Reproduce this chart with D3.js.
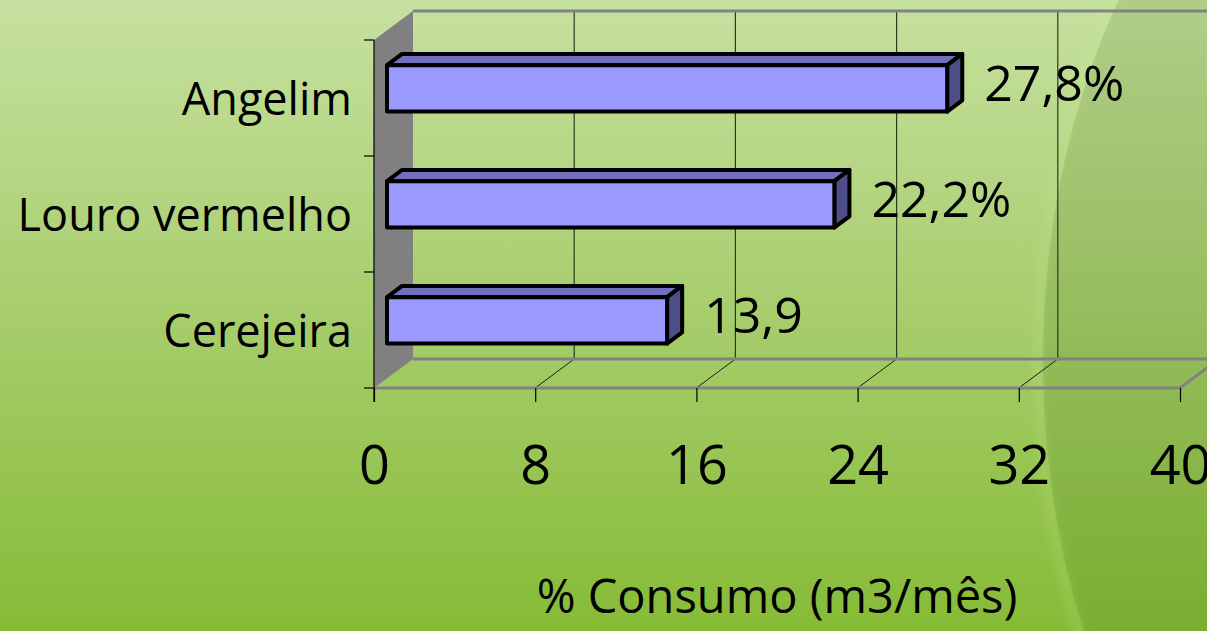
<!DOCTYPE html>
<html>
<head>
<meta charset="utf-8">
<script src="https://cdn.jsdelivr.net/npm/d3@7"></script>
<style>
  html, body { margin: 0; padding: 0; overflow: hidden; }
  svg { display: block; }
  text { font-family: "Open Sans", "DejaVu Sans", sans-serif; fill: #000; }
</style>
</head>
<body>
<svg id="chart" width="1207" height="631"></svg>
<script>
// Wood species and their share of monthly consumption
const categories = ["Angelim", "Louro vermelho", "Cerejeira"];
const values = [27.8, 22.2, 13.9];
const valueLabels = ["27,8%", "22,2%", "13,9"];
const tickValues = [0, 8, 16, 24, 32, 40];
const axisTitle = "% Consumo (m3/mês)";

const W = 1207, H = 631;
const svg = d3.select("#chart");

// ---- background ----
const defs = svg.append("defs");
const bg = defs.append("linearGradient").attr("id", "bg").attr("x1", 0).attr("y1", 0).attr("x2", 0).attr("y2", 1);
bg.append("stop").attr("offset", 0).attr("stop-color", "#c6e1a0");
bg.append("stop").attr("offset", 0.5).attr("stop-color", "#a7cd6c");
bg.append("stop").attr("offset", 1).attr("stop-color", "#86bb36");
defs.append("filter").attr("id", "soft").append("feGaussianBlur").attr("stdDeviation", 5);

svg.append("rect").attr("width", W).attr("height", H).attr("fill", "url(#bg)");
svg.append("ellipse").attr("cx", 1450).attr("cy", 360).attr("rx", 407).attr("ry", 620)
  .attr("fill", "#3d6b12").attr("opacity", 0.16);
svg.append("ellipse").attr("cx", 1450).attr("cy", 360).attr("rx", 412).attr("ry", 625)
  .attr("fill", "none").attr("stroke", "#c8e89a").attr("stroke-width", 8)
  .attr("opacity", 0.25).attr("filter", "url(#soft)");

// ---- scales (front plane) ----
const x = d3.scaleLinear().domain([0, 40]).range([374, 1180]);
const y = d3.scaleBand().domain(categories).range([40, 388])
  .paddingInner(0.6).paddingOuter(0.3);

// 3D depth offset of the back plane
const DX = 39, DY = -29;
const P = (px, py, z) => [px + z * DX, py + z * DY];
const poly = pts => "M" + pts.map(p => p.join(",")).join("L") + "Z";

const yTop = y.range()[0], yBot = y.range()[1];
const xL = x.range()[0], xR = x.range()[1];
const g = svg.append("g");

// left wall
g.append("path")
  .attr("d", poly([P(xL, yTop, 0), P(xL, yTop, 1), P(xL, yBot, 1), P(xL, yBot, 0)]))
  .attr("fill", "#808080");

// back wall gridlines
tickValues.slice(1).forEach(v => {
  const a = P(x(v), yTop, 1), b = P(x(v), yBot, 1);
  g.append("line").attr("x1", a[0]).attr("y1", a[1]).attr("x2", b[0]).attr("y2", b[1])
    .attr("stroke", "#2d3a1c").attr("stroke-width", 1.2);
});

// floor diagonals at ticks
tickValues.slice(1, -1).forEach(v => {
  const a = P(x(v), yBot, 0), b = P(x(v), yBot, 1);
  g.append("line").attr("x1", a[0]).attr("y1", a[1]).attr("x2", b[0]).attr("y2", b[1])
    .attr("stroke", "#1a1a1a").attr("stroke-width", 1);
});

// back wall top edge, floor back edge, floor front edge, floor right edge
const grayEdges = [
  [P(xL, yTop, 1), [W + 20, P(xL, yTop, 1)[1]]],
  [P(xL, yBot, 1), P(xR, yBot, 1).map((d, i) => i === 0 ? W + 20 : d)],
  [P(xL, yBot, 0), P(xR, yBot, 0)],
  [P(xR, yBot, 0), P(xR, yBot, 1)]
];
grayEdges.forEach(([a, b]) => {
  g.append("line").attr("x1", a[0]).attr("y1", a[1]).attr("x2", b[0]).attr("y2", b[1])
    .attr("stroke", "#828282").attr("stroke-width", 3);
});

// front vertical axis line with ticks at band boundaries
g.append("line").attr("x1", xL).attr("y1", yTop).attr("x2", xL).attr("y2", yBot + 14)
  .attr("stroke", "#000").attr("stroke-width", 1.2);
const step = y.step();
const bounds = d3.range(categories.length + 1).map(i => yTop + i * step);
bounds.forEach(b => {
  g.append("line").attr("x1", xL - 10).attr("y1", b).attr("x2", xL).attr("y2", b)
    .attr("stroke", "#000").attr("stroke-width", 1.2);
});

// bottom value axis
const axis = d3.axisBottom(x).tickValues(tickValues).tickSize(14).tickSizeOuter(0)
  .tickPadding(44).tickFormat(d3.format("d"));
const ax = svg.append("g").attr("transform", `translate(0,${yBot})`).call(axis);
ax.select(".domain").remove();
ax.selectAll(".tick line").attr("stroke", "#000").attr("stroke-width", 1.2);
ax.selectAll(".tick text").attr("font-size", 54).attr("fill", "#000")
  .style("font-family", '"Open Sans", "DejaVu Sans", sans-serif');

// ---- 3D bars ----
const Z1 = 1 / 3, Z2 = 0.72;
const bars = svg.append("g");
categories.forEach((c, i) => {
  const v = values[i];
  const y0 = y(c), y1 = y(c) + y.bandwidth();
  const x0 = x(0), x1 = x(v);
  const fTL = P(x0, y0, Z1), fTR = P(x1, y0, Z1), fBR = P(x1, y1, Z1), fBL = P(x0, y1, Z1);
  const bTL = P(x0, y0, Z2), bTR = P(x1, y0, Z2), bBR = P(x1, y1, Z2);
  const stroke = { stroke: "#000", "stroke-width": 4, "stroke-linejoin": "round" };
  const face = (pts, fill) => {
    const p = bars.append("path").attr("d", poly(pts)).attr("fill", fill);
    Object.entries(stroke).forEach(([k, val]) => p.attr(k, val));
  };
  face([fTL, bTL, bTR, fTR], "#7070bd");   // top
  face([fTR, bTR, bBR, fBR], "#4e4e88");   // right side
  face([fTL, fTR, fBR, fBL], "#9999ff");   // front

  // value label
  const mid = (y0 + y1) / 2;
  const lp = P(x1, mid, Z2);
  bars.append("text").attr("x", lp[0] + 22).attr("y", lp[1] + 24)
    .attr("font-size", 50).text(valueLabels[i]);

  // category label
  svg.append("text").attr("x", 352).attr("y", mid + 17)
    .attr("text-anchor", "end").attr("font-size", 45).text(c);
});

// axis title
svg.append("text").attr("x", 777).attr("y", 613).attr("text-anchor", "middle")
  .attr("font-size", 47).text(axisTitle);
</script>
</body>
</html>
